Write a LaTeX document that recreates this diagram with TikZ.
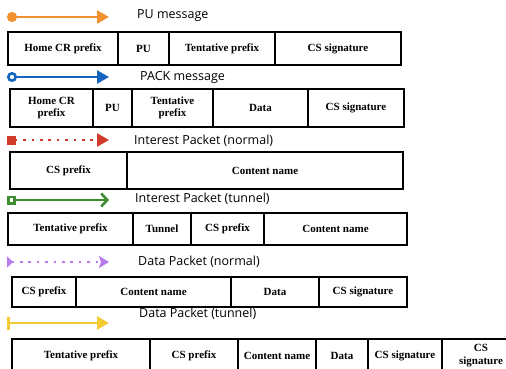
\documentclass[tikz,border=0pt]{standalone}
\usepackage{fontspec}
\setmainfont{Liberation Serif}
\newfontfamily\msgfont{Open Sans}
\usetikzlibrary{arrows.meta}
\definecolor{puorange}{RGB}{242,145,48}
\definecolor{packblue}{RGB}{22,102,192}
\definecolor{intred}{RGB}{208,58,43}
\definecolor{tungreen}{RGB}{62,142,48}
\definecolor{datapurple}{RGB}{182,122,238}
\definecolor{tunyellow}{RGB}{242,204,50}
\tikzset{
  field/.style={draw, line width=1.6pt, anchor=north west, inner sep=0pt,
    outer sep=0pt, align=center, font=\fontsize{11}{12.5}\selectfont\bfseries},
  msg/.style={anchor=west, inner sep=0pt, font=\msgfont\fontsize{12.5}{14}\selectfont},
  flow/.style={line width=2.6pt},
  dots/.style={dash pattern=on 2.6pt off 5.8pt}
}
\begin{document}
\begin{tikzpicture}[x=1pt,y=-1pt]
  \clip (0,0) rectangle (506,368);
  % PU message
  \coordinate (pus) at (7,17);
  \coordinate (pue) at (109,17);
  \draw[flow, puorange, {Circle[length=10pt]}-{Triangle[length=12pt,width=13pt]}] (pus) -- (pue);
  \node[msg] (pulbl) at (137,16) {PU message};
  \node[field, minimum width=110pt, minimum height=33pt] (pu1) at (8,32) {Home CR prefix};
  \node[field, minimum width=51pt, minimum height=33pt] (pu2) at (118,32) {PU};
  \node[field, minimum width=106pt, minimum height=33pt] (pu3) at (169,32) {Tentative prefix};
  \node[field, minimum width=126pt, minimum height=33pt] (pu4) at (275,32) {CS signature};
  % PACK message
  \coordinate (packs) at (7,77);
  \coordinate (packe) at (109,77);
  \draw[flow, packblue, {Circle[open,fill=white,length=10pt]}-{Triangle[length=12pt,width=13pt]}] (packs) -- (packe);
  \node[msg] (packlbl) at (140,77) {PACK message};
  \node[field, minimum width=83pt, minimum height=38pt] (pack1) at (10,89) {Home CR\\prefix};
  \node[field, minimum width=39pt, minimum height=38pt] (pack2) at (93,89) {PU};
  \node[field, minimum width=81pt, minimum height=38pt] (pack3) at (132,89) {Tentative\\prefix};
  \node[field, minimum width=95pt, minimum height=38pt] (pack4) at (213,89) {Data};
  \node[field, minimum width=96pt, minimum height=38pt] (pack5) at (308,89) {CS signature};
  % Interest Packet (normal)
  \coordinate (ints) at (7,140);
  \coordinate (inte) at (109,140);
  \draw[flow, dots, intred, {Square[length=9pt,width=9pt]}-{Triangle[length=12pt,width=13pt]}] (ints) -- (inte);
  \node[msg] (intlbl) at (134,141) {Interest Packet (normal)};
  \node[field, minimum width=117pt, minimum height=37pt] (int1) at (10,152) {CS prefix};
  \node[field, minimum width=276pt, minimum height=37pt] (int2) at (127,152) {Content name};
  % Interest Packet (tunnel)
  \coordinate (itns) at (7,200);
  \coordinate (itne) at (109,200);
  \draw[flow, tungreen, {Square[open,fill=white,length=9pt,width=9pt]}-{Straight Barb[length=6pt,width=13pt]}] (itns) -- (itne);
  \node[msg] (itnlbl) at (135,199) {Interest Packet (tunnel)};
  \node[field, minimum width=125pt, minimum height=32pt] (itn1) at (8,213) {Tentative prefix};
  \node[field, minimum width=58pt, minimum height=32pt] (itn2) at (133,213) {Tunnel};
  \node[field, minimum width=73pt, minimum height=32pt] (itn3) at (191,213) {CS prefix};
  \node[field, minimum width=143pt, minimum height=32pt] (itn4) at (264,213) {Content name};
  % Data Packet (normal)
  \coordinate (dats) at (7,262);
  \coordinate (date) at (109,262);
  \draw[flow, dots, datapurple, {Triangle[reversed,length=6pt,width=11pt]}-{Stealth[length=10pt,width=12pt,inset=2pt]}] (dats) -- (date);
  \node[msg] (datlbl) at (138,262) {Data Packet (normal)};
  \node[field, minimum width=64pt, minimum height=30pt] (dat1) at (12,277) {CS prefix};
  \node[field, minimum width=155pt, minimum height=30pt] (dat2) at (76,277) {Content name};
  \node[field, minimum width=88pt, minimum height=30pt] (dat3) at (231,277) {Data};
  \node[field, minimum width=88pt, minimum height=30pt] (dat4) at (319,277) {CS signature};
  % Data Packet (tunnel)
  \coordinate (dtns) at (7,323);
  \coordinate (dtne) at (109,323);
  \draw[flow, tunyellow, {Bar[width=13pt]}-{Triangle[length=12pt,width=13pt]}] (dtns) -- (dtne);
  \node[msg] (dtnlbl) at (139,314) {Data Packet (tunnel)};
  \node[field, minimum width=138pt, minimum height=33pt] (dtn1) at (12,339) {Tentative prefix};
  \node[field, minimum width=88pt, minimum height=33pt] (dtn2) at (150,339) {CS prefix};
  \node[field, minimum width=78pt, minimum height=33pt] (dtn3) at (238,339) {Content name};
  \node[field, minimum width=52pt, minimum height=33pt] (dtn4) at (316,339) {Data};
  \node[field, minimum width=74pt, minimum height=33pt] (dtn5) at (368,339) {CS signature};
  \node[field, minimum width=78pt, minimum height=33pt] (dtn6) at (442,339) {CS\\signature};
\end{tikzpicture}
\end{document}
